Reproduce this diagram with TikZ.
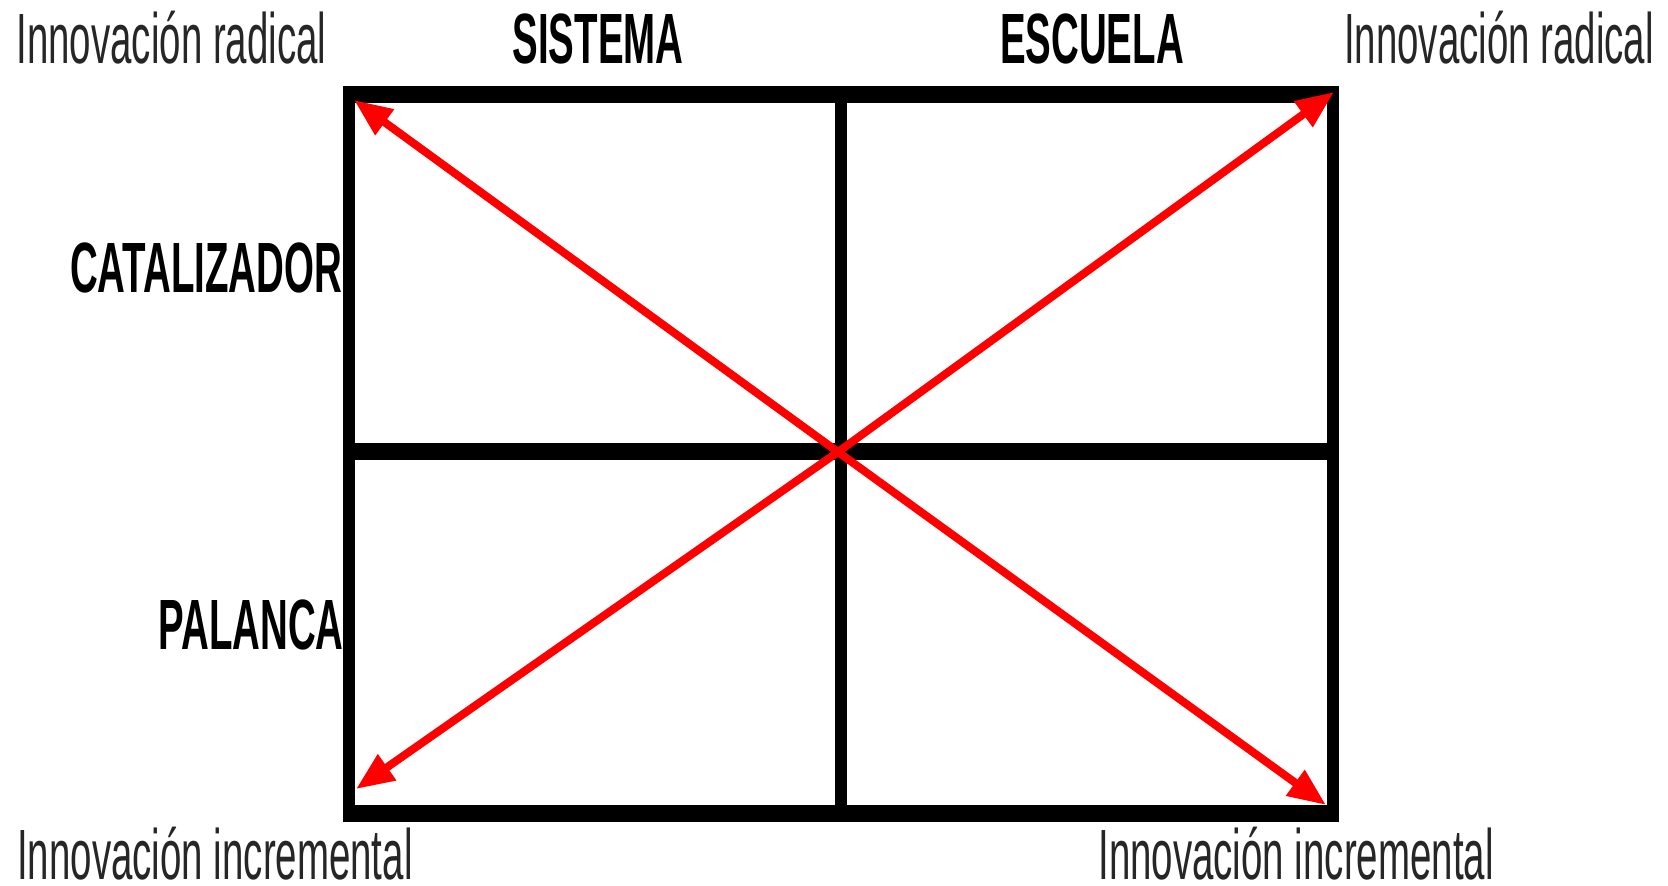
\documentclass[tikz,border=0pt]{standalone}
\usepackage{fontspec}
\setmainfont{Liberation Sans}
\newfontfamily\condfont[FakeStretch=0.54]{Liberation Sans}
\usetikzlibrary{arrows.meta}
\tikzset{
  lbl/.style={anchor=base, inner sep=0pt, font=\condfont\fontsize{35.6pt}{40pt}\selectfont, text=black!85},
  head/.style={anchor=base, inner sep=0pt, font=\condfont\bfseries\fontsize{35.6pt}{40pt}\selectfont, text=black},
  hline/.style={line width=8.5pt, line cap=butt},
  vline/.style={line width=6pt, line cap=butt},
  redarrow/.style={draw=red, line width=4pt, -{Triangle[length=19pt,width=15pt]}, shorten >=0pt}
}
\begin{document}
\begin{tikzpicture}[x=0.5pt,y=-0.5pt]
\useasboundingbox (0,0) rectangle (1668,886);
% grid
\draw[hline] (343,94.5) -- (1339,94.5);
\draw[hline] (343,813.5) -- (1339,813.5);
\draw[hline] (343,452) -- (1339,452);
\draw[vline] (349,86) -- (349,822);
\draw[vline] (841,86) -- (841,822);
\draw[vline] (1333,86) -- (1333,822);
% labels
\node[lbl] (rtl) at (171.5,64) {Innovación radical};
\node[head] (sis) at (598,64) {SISTEMA};
\node[head] (esc) at (1092,64) {ESCUELA};
\node[lbl] (rtr) at (1499,64) {Innovación radical};
\node[head] (cat) at (206,292.7) {CATALIZADOR};
\node[head] (pal) at (251,649) {PALANCA};
\node[lbl] (ibl) at (215,879.5) {Innovación incremental};
\node[lbl] (ibr) at (1296,879.5) {Innovación incremental};
% arrows
\coordinate (c) at (838,452);
\coordinate (tl) at (354,100);
\coordinate (tr) at (1334,92);
\coordinate (bl) at (356,789);
\coordinate (br) at (1326,805);
\draw[redarrow] (c) -- (tl);
\draw[redarrow] (c) -- (tr);
\draw[redarrow] (c) -- (bl);
\draw[redarrow] (c) -- (br);
\end{tikzpicture}
\end{document}
